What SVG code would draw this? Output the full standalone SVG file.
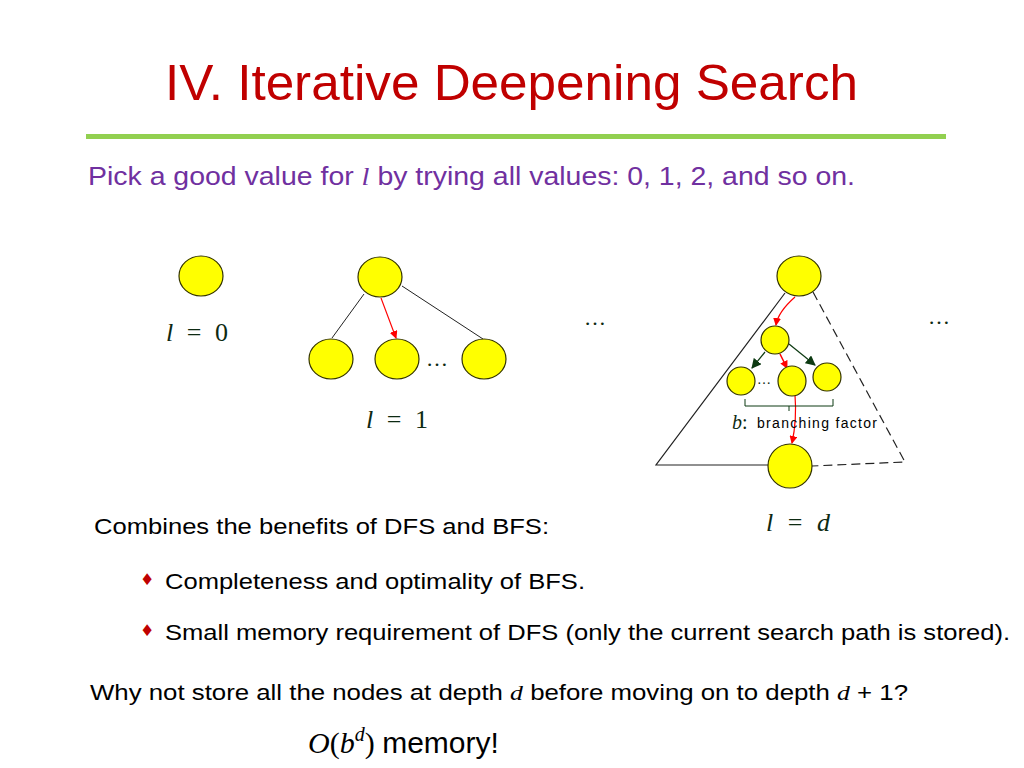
<svg xmlns="http://www.w3.org/2000/svg" width="1024" height="768" viewBox="0 0 1024 768">
<style>
.n{fill:#ffff00;stroke:#333300;stroke-width:1.2}
.m{font-family:"Cambria Math","Liberation Serif",serif;font-style:italic;fill:#0d2a12}
.t{font-family:"Liberation Sans",Arial,sans-serif;fill:#000}
</style>
<defs>
<marker id="r" markerWidth="8" markerHeight="8" refX="7" refY="4" orient="auto" markerUnits="userSpaceOnUse"><path d="M0,0 L8,4 L0,8 Z" fill="#ff0000"/></marker>
<marker id="g" markerWidth="10" markerHeight="10" refX="9" refY="5" orient="auto" markerUnits="userSpaceOnUse"><path d="M0,0 L10,5 L0,10 Z" fill="#0d3a12"/></marker>
</defs>
<rect width="1024" height="768" fill="#fff"/>
<text x="165" y="100" font-family="Liberation Sans,Arial,sans-serif" font-size="50" fill="#c00000" textLength="693" lengthAdjust="spacingAndGlyphs">IV. Iterative Deepening Search</text>
<rect x="86" y="134" width="860" height="5" fill="#92d050"/>
<text x="88" y="185" font-family="Liberation Sans,Arial,sans-serif" font-size="25" fill="#7030a0" textLength="767" lengthAdjust="spacingAndGlyphs">Pick a good value for <tspan font-family="Liberation Serif,serif" font-style="italic">l</tspan> by trying all values: 0, 1, 2, and so on.</text>
<g id="connectors" fill="none">
<line x1="364" y1="294" x2="332" y2="338" stroke="#222" stroke-width="1"/>
<line x1="402" y1="286" x2="483" y2="339" stroke="#222" stroke-width="1"/>
<line x1="381" y1="298" x2="396" y2="338" stroke="#ff0000" stroke-width="1.2" marker-end="url(#r)"/>
<path d="M785,293 L656,465 L768,465" stroke="#222" stroke-width="1.2"/>
<path d="M813,292 L905,462 L812,466" stroke="#222" stroke-width="1.2" stroke-dasharray="9,5"/>
<path d="M795,297 Q778,312 776,325" stroke="#ff0000" stroke-width="1.2" marker-end="url(#r)"/>
<line x1="765" y1="352" x2="752" y2="368" stroke="#0d3a12" stroke-width="1.2" marker-end="url(#g)"/>
<line x1="780" y1="354" x2="787" y2="368" stroke="#ff0000" stroke-width="1.5" marker-end="url(#r)"/>
<line x1="789" y1="344" x2="815" y2="365" stroke="#0d3a12" stroke-width="1.2" marker-end="url(#g)"/>
<path d="M795,395 Q797,420 792,443" stroke="#ff0000" stroke-width="1.2" marker-end="url(#r)"/>
<path d="M745,399 V406 H833 V399 M789,406 V411" stroke="#0d3a12" stroke-width="1"/>
</g>
<g id="l0"><ellipse class="n" cx="201" cy="276" rx="22" ry="20"/></g>
<g id="l1root"><ellipse class="n" cx="380" cy="277" rx="22" ry="20"/></g>
<g id="l1a"><ellipse class="n" cx="331" cy="359" rx="22" ry="20"/></g>
<g id="l1b"><ellipse class="n" cx="397" cy="359" rx="22" ry="20"/></g>
<g id="l1c"><ellipse class="n" cx="484" cy="359" rx="22" ry="20"/></g>
<g id="droot"><ellipse class="n" cx="799" cy="276" rx="22" ry="20"/></g>
<g id="dmid"><ellipse class="n" cx="775" cy="340" rx="14" ry="14"/></g>
<g id="dc1"><ellipse class="n" cx="741" cy="381" rx="14" ry="14"/></g>
<g id="dc2"><ellipse class="n" cx="792" cy="381" rx="14" ry="15"/></g>
<g id="dc3"><ellipse class="n" cx="827" cy="377" rx="14" ry="14"/></g>
<g id="dbottom"><ellipse class="n" cx="790" cy="466" rx="22" ry="22"/></g>
<text x="166" y="341" class="m" font-size="26" textLength="62">l <tspan font-style="normal">= 0</tspan></text>
<text x="366" y="428" class="m" font-size="26" textLength="62">l <tspan font-style="normal">= 1</tspan></text>
<text x="766" y="531" class="m" font-size="26" textLength="64">l <tspan font-style="normal">=</tspan> d</text>
<text x="426" y="366" font-family="Liberation Serif,serif" font-size="22" fill="#0d2a12" textLength="28">…</text>
<text x="584" y="325" font-family="Liberation Serif,serif" font-size="22" fill="#0d2a12" textLength="28">…</text>
<text x="928" y="324" font-family="Liberation Serif,serif" font-size="22" fill="#0d2a12" textLength="28">…</text>
<text x="757" y="384" font-family="Liberation Serif,serif" font-size="14" fill="#0d2a12">…</text>
<text x="732" y="429" class="m" font-size="20">b<tspan font-style="normal">:</tspan></text>
<text x="757" y="428" class="t" font-size="14" fill="#0d2a12" textLength="120">branching factor</text>
<text x="94" y="534" class="t" font-size="22" textLength="455" lengthAdjust="spacingAndGlyphs">Combines the benefits of DFS and BFS:</text>
<text x="140" y="585" fill="#c00000" font-size="16" font-family="DejaVu Sans,sans-serif">♦</text>
<text x="165" y="589" class="t" font-size="22" textLength="420" lengthAdjust="spacingAndGlyphs">Completeness and optimality of BFS.</text>
<text x="140" y="636" fill="#c00000" font-size="16" font-family="DejaVu Sans,sans-serif">♦</text>
<text x="165" y="640" class="t" font-size="22" textLength="845" lengthAdjust="spacingAndGlyphs">Small memory requirement of DFS (only the current search path is stored).</text>
<text x="90" y="700" class="t" font-size="22" textLength="818" lengthAdjust="spacingAndGlyphs">Why not store all the nodes at depth <tspan font-family="Liberation Serif,serif" font-style="italic">d</tspan> before moving on to depth <tspan font-family="Liberation Serif,serif" font-style="italic">d</tspan> + 1?</text>
<text x="308" y="753" font-family="Liberation Serif,serif" font-size="30"><tspan font-style="italic">O</tspan>(<tspan font-style="italic">b</tspan><tspan font-style="italic" font-size="20" dy="-12">d</tspan><tspan dy="12">)</tspan> <tspan font-family="Liberation Sans,Arial,sans-serif">memory!</tspan></text>
</svg>
